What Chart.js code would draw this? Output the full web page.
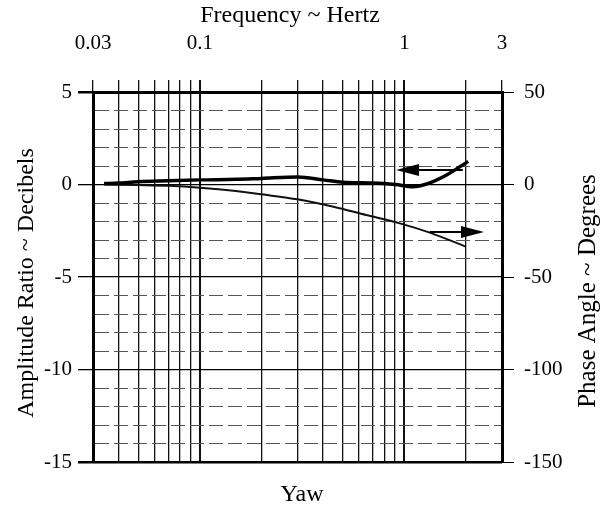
<!DOCTYPE html>
<html>
<head>
<meta charset="utf-8">
<script src="https://cdn.jsdelivr.net/npm/chart.js@4.4.0/dist/chart.umd.min.js"></script>
<style>
  html, body { margin: 0; padding: 0; background: #fff; }
  canvas { display: block; }
</style>
</head>
<body>
<canvas id="myChart" width="609" height="510"></canvas>
<script>
// amplitude ratio (dB) vs frequency (Hz)
const ampFreq = [0.034, 0.04, 0.05, 0.07, 0.1, 0.15, 0.2, 0.3, 0.4, 0.5, 0.7, 0.9, 1.1, 1.3, 1.6, 2.05];
const ampDb   = [0.05, 0.08, 0.15, 0.2, 0.25, 0.28, 0.33, 0.4, 0.25, 0.12, 0.08, 0.0, -0.12, 0.05, 0.5, 1.25];

// phase angle (deg) vs frequency (Hz)
const phaseFreq = [0.034, 0.05, 0.07, 0.1, 0.15, 0.2, 0.3, 0.45, 0.65, 0.95, 1.33, 2.0];
const phaseDeg  = [0, -0.3, -0.7, -1.7, -3.5, -5.3, -8, -12, -16.5, -21, -26, -33.6];

// axes
const freqGrid = [0.03, 0.04, 0.05, 0.06, 0.07, 0.08, 0.09, 0.1, 0.2, 0.3, 0.4, 0.5, 0.6, 0.7, 0.8, 0.9, 1, 2, 3];
const freqLabelValues = [0.03, 0.1, 1, 3];
const freqLabels = ['0.03', '0.1', '1', '3'];
const dbLabels = [5, 0, -5, -10, -15];
const phaseLabels = [50, 0, -50, -100, -150];

// arrows telling which curve goes with which axis
const arrows = [
  { axis: 'y',  from: [1.93, 0.78], to: [0.91, 0.78] },
  { axis: 'y2', from: [1.33, -25.7], to: [2.45, -25.7] }
];

Chart.defaults.font.family = 'Liberation Serif';
Chart.defaults.color = '#000';

const arrowPlugin = {
  id: 'arrows',
  afterDatasetsDraw(chart) {
    const c = chart.ctx, xs = chart.scales.x;
    c.save();
    c.strokeStyle = '#000';
    c.fillStyle = '#000';
    arrows.forEach(a => {
      const ys = chart.scales[a.axis];
      const x1 = xs.getPixelForValue(a.from[0]), y1 = ys.getPixelForValue(a.from[1]);
      const x2 = xs.getPixelForValue(a.to[0]), y2 = ys.getPixelForValue(a.to[1]);
      const dir = Math.sign(x2 - x1);
      c.lineWidth = 2;
      c.beginPath();
      c.moveTo(x1, y1);
      c.lineTo(x2 - dir * 20, y2);
      c.stroke();
      c.beginPath();
      c.moveTo(x2, y2);
      c.lineTo(x2 - dir * 23, y2 - 6);
      c.lineTo(x2 - dir * 23, y2 + 6);
      c.closePath();
      c.fill();
    });
    c.restore();
  }
};

const titlePlugin = {
  id: 'titles',
  afterDraw(chart) {
    const c = chart.ctx;
    c.save();
    c.fillStyle = '#000';
    c.font = '24px "Liberation Serif"';
    c.textAlign = 'center';
    c.textBaseline = 'alphabetic';
    c.fillText('Frequency ~ Hertz', 290, 22);
    c.fillText('Yaw', 302, 501);
    c.textBaseline = 'middle';
    c.translate(27, 283);
    c.rotate(-Math.PI / 2);
    c.fillText('Amplitude Ratio ~ Decibels', 0, 0);
    c.restore();
    c.save();
    c.fillStyle = '#000';
    c.font = '25px "Liberation Serif"';
    c.textAlign = 'center';
    c.textBaseline = 'middle';
    c.translate(588, 291);
    c.rotate(-Math.PI / 2);
    c.fillText('Phase Angle ~ Degrees', 0, 0);
    c.restore();
  }
};

new Chart(document.getElementById('myChart'), {
  type: 'line',
  data: {
    datasets: [{
      label: 'Amplitude Ratio',
      data: ampFreq.map((f, i) => ({ x: f, y: ampDb[i] })),
      yAxisID: 'y',
      borderColor: '#000',
      borderWidth: 3.5,
      pointRadius: 0,
      cubicInterpolationMode: 'monotone'
    }, {
      label: 'Phase Angle',
      data: phaseFreq.map((f, i) => ({ x: f, y: phaseDeg[i] })),
      yAxisID: 'y2',
      borderColor: '#111',
      borderWidth: 2,
      pointRadius: 0,
      cubicInterpolationMode: 'monotone'
    }]
  },
  options: {
    responsive: false,
    animation: false,
    layout: { padding: { top: 0, left: 0, right: 0, bottom: 48 } },
    plugins: { legend: { display: false }, tooltip: { enabled: false } },
    scales: {
      x: {
        type: 'logarithmic',
        position: 'top',
        min: 0.03,
        max: 3,
        afterBuildTicks: axis => { axis.ticks = freqGrid.map(v => ({ value: v })); },
        afterFit: axis => { axis.height = 92; },
        ticks: {
          autoSkip: false,
          maxRotation: 0,
          padding: 24,
          font: { size: 21 },
          callback: v => {
            const i = freqLabelValues.indexOf(v);
            return i >= 0 ? freqLabels[i] : '';
          }
        },
        grid: {
          color: '#111',
          lineWidth: c => (c.tick && (c.tick.value === 0.1 || c.tick.value === 1)) ? 2 : 1.3,
          tickLength: 12,
          tickColor: '#111'
        },
        border: { width: 3, color: '#000' }
      },
      y: {
        position: 'left',
        min: -15,
        max: 5,
        afterFit: axis => { axis.width = 93; },
        ticks: {
          stepSize: 1,
          autoSkip: false,
          padding: 6,
          font: { size: 21 },
          callback: v => dbLabels.includes(v) ? String(v) : ''
        },
        grid: {
          color: c => (c.tick && c.tick.value % 5 === 0) ? '#000' : '#555',
          lineWidth: c => {
            if (!c.tick) return 1;
            const v = c.tick.value;
            if (v === -15 || v === 5) return 2.5;
            return v % 5 === 0 ? 1.3 : 1;
          },
          tickLength: 15,
          tickColor: c => (c.tick && c.tick.value % 5 === 0) ? '#000' : 'rgba(0,0,0,0)'
        },
        border: {
          width: 3,
          color: '#000',
          dash: c => (c.tick && c.tick.value % 5 !== 0) ? [14, 5] : []
        }
      },
      y2: {
        position: 'right',
        min: -150,
        max: 50,
        afterFit: axis => { axis.width = 107; },
        ticks: {
          stepSize: 10,
          autoSkip: false,
          padding: 10,
          font: { size: 21 },
          callback: v => phaseLabels.includes(v) ? String(v) : ''
        },
        grid: {
          drawOnChartArea: false,
          tickLength: 12,
          tickColor: c => (c.tick && c.tick.value % 50 === 0) ? '#000' : 'rgba(0,0,0,0)'
        },
        border: { width: 3, color: '#000' }
      }
    }
  },
  plugins: [arrowPlugin, titlePlugin]
});
</script>
</body>
</html>
